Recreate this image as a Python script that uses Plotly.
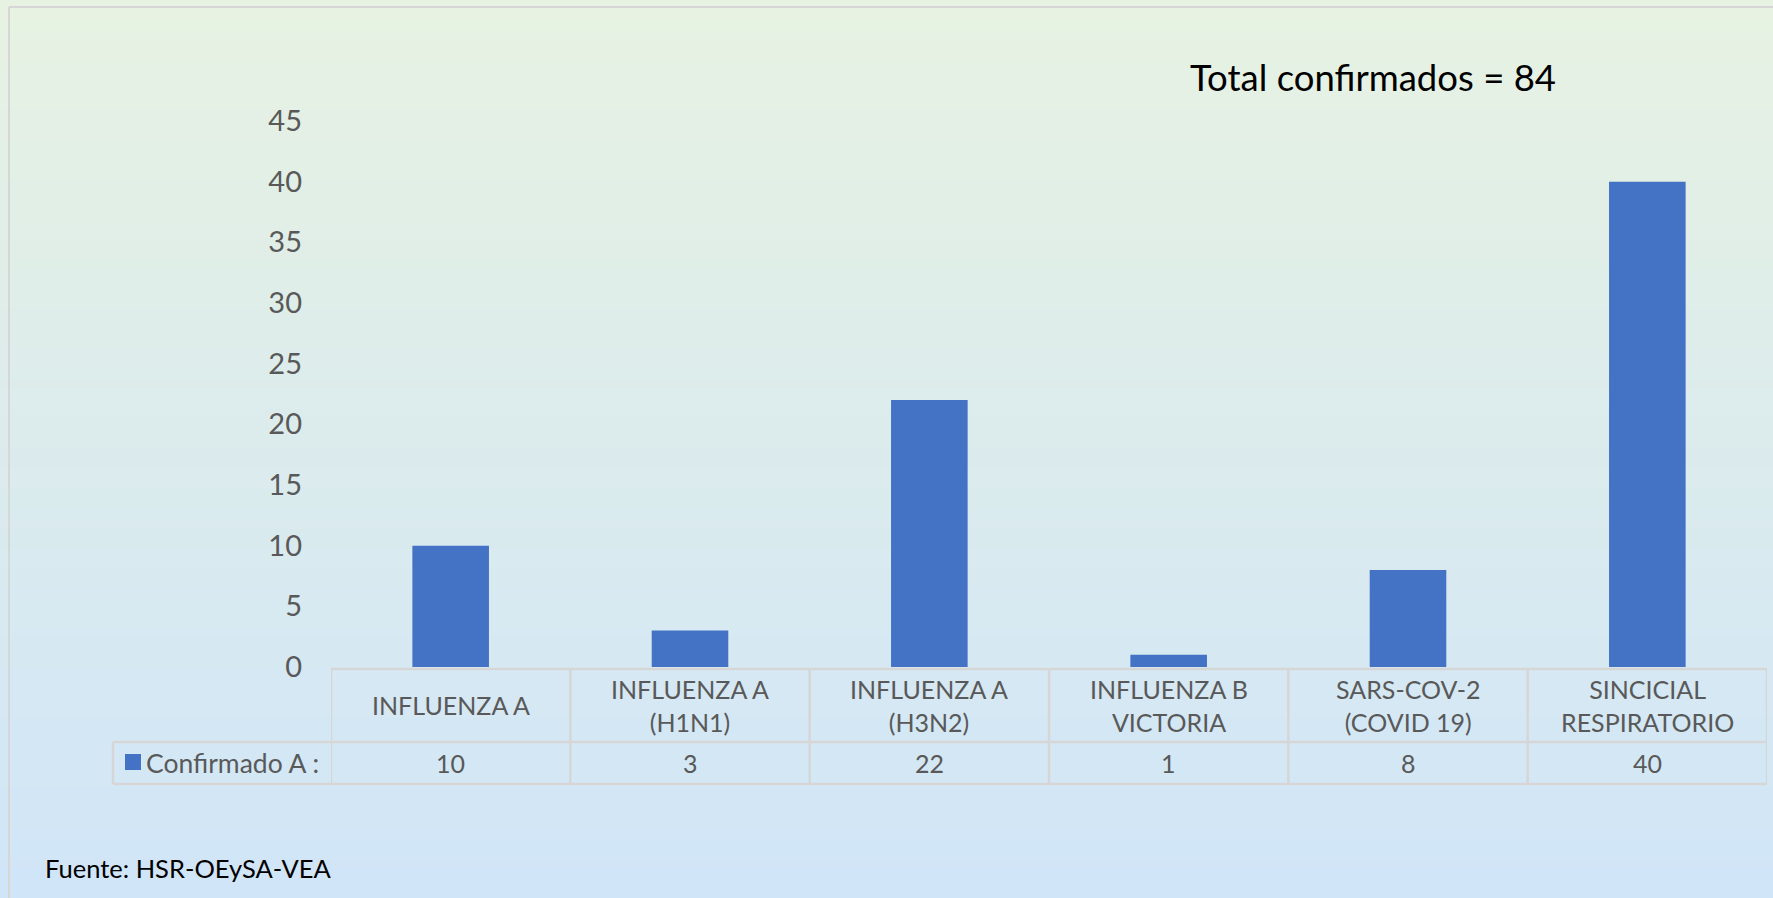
import plotly.graph_objects as go

categories = ["INFLUENZA A", "INFLUENZA A (H1N1)", "INFLUENZA A (H3N2)",
              "INFLUENZA B VICTORIA", "SARS-COV-2 (COVID 19)", "SINCICIAL RESPIRATORIO"]
category_labels = ["INFLUENZA A", "INFLUENZA A<br>(H1N1)", "INFLUENZA A<br>(H3N2)",
                   "INFLUENZA B<br>VICTORIA", "SARS-COV-2<br>(COVID 19)", "SINCICIAL<br>RESPIRATORIO"]
values = [10, 3, 22, 1, 8, 40]
series_name = "Confirmado A :"
y_ticks = [0, 5, 10, 15, 20, 25, 30, 35, 40, 45]
title_text = "Total confirmados = 84"
source_text = "Fuente: HSR-OEySA-VEA"

W, H = 1773, 898
L, R, T, B = 331, 6, 121, 231
PW, PH = W - L - R, H - T - B
FONT = "Lato"
GRAY = "#595959"
LINE = "#d6d6d6"
BAR = "#4472c4"


def px(xp):
    return (xp - L) / PW


def py(yp):
    return (H - B - yp) / PH


fig = go.Figure()
fig.add_trace(go.Bar(x=categories, y=values, marker=dict(color=BAR, line=dict(width=0)),
                     name=series_name, showlegend=False, hoverinfo="x+y"))

shapes = []
# background gradient (top light green -> bottom light blue)
top_c = (231, 242, 226)
bot_c = (208, 229, 248)
nb = 90
for i in range(nb):
    t = i / (nb - 1)
    c = tuple(round(top_c[k] + (bot_c[k] - top_c[k]) * t) for k in range(3))
    y0 = i * H / nb
    y1 = (i + 1) * H / nb + 1
    shapes.append(dict(type="rect", xref="paper", yref="paper", layer="below",
                       x0=px(-5), x1=px(W + 5), y0=py(y1), y1=py(y0),
                       fillcolor="rgb(%d,%d,%d)" % c, line=dict(width=0)))

# outer chart border
shapes.append(dict(type="line", xref="paper", yref="paper", x0=px(9), x1=px(W + 5),
                   y0=py(7), y1=py(7), line=dict(color=LINE, width=2)))
shapes.append(dict(type="line", xref="paper", yref="paper", x0=px(9), x1=px(9),
                   y0=py(7), y1=py(H + 5), line=dict(color=LINE, width=2)))

# data table lines
row_top, row_mid, row_bot = 669, 742, 784
shapes.append(dict(type="line", xref="paper", yref="paper", x0=0, x1=1,
                   y0=py(row_top), y1=py(row_top), line=dict(color=LINE, width=2.5)))
for yy in (row_mid, row_bot):
    shapes.append(dict(type="line", xref="paper", yref="paper", x0=px(113), x1=1,
                       y0=py(yy), y1=py(yy), line=dict(color=LINE, width=2.5)))
for i in range(len(categories) + 1):
    shapes.append(dict(type="line", xref="x", yref="paper", x0=i - 0.5, x1=i - 0.5,
                       y0=py(row_top), y1=py(row_bot), line=dict(color=LINE, width=2.5)))
shapes.append(dict(type="line", xref="paper", yref="paper", x0=px(113), x1=px(113),
                   y0=py(row_mid), y1=py(row_bot), line=dict(color=LINE, width=2.5)))
# legend key square
shapes.append(dict(type="rect", xref="paper", yref="paper", x0=px(125), x1=px(141),
                   y0=py(770), y1=py(754), fillcolor=BAR, line=dict(width=0)))

annotations = []
for cat, lab, v in zip(categories, category_labels, values):
    annotations.append(dict(x=cat, xref="x", y=py(705), yref="paper", text=lab,
                            showarrow=False, xanchor="center", yanchor="middle",
                            font=dict(family=FONT, size=25, color=GRAY)))
    annotations.append(dict(x=cat, xref="x", y=py(763), yref="paper", text=str(v),
                            showarrow=False, xanchor="center", yanchor="middle",
                            font=dict(family=FONT, size=25, color=GRAY)))
annotations.append(dict(x=px(144), xref="paper", y=py(763), yref="paper", text=series_name,
                        showarrow=False, xanchor="left", yanchor="middle",
                        font=dict(family=FONT, size=26.5, color=GRAY)))
annotations.append(dict(x=px(1188), xref="paper", y=py(77), yref="paper", text=title_text,
                        showarrow=False, xanchor="left", yanchor="middle",
                        font=dict(family=FONT, size=36.5, color="#000000")))
annotations.append(dict(x=px(43), xref="paper", y=py(868), yref="paper", text=source_text,
                        showarrow=False, xanchor="left", yanchor="middle",
                        font=dict(family=FONT, size=25.5, color="#000000")))

fig.update_layout(
    width=W, height=H,
    margin=dict(l=L, r=R, t=T, b=B, pad=0),
    paper_bgcolor="rgba(0,0,0,0)",
    plot_bgcolor="rgba(0,0,0,0)",
    bargap=0.68,
    showlegend=False,
    shapes=shapes,
    annotations=annotations,
    xaxis=dict(range=[-0.5, len(categories) - 0.5], showticklabels=False, showgrid=False,
               zeroline=False, showline=False, ticks="", fixedrange=True),
    yaxis=dict(range=[0, 45], tickvals=y_ticks, showgrid=False, zeroline=False,
               showline=False, ticks="", ticklabelstandoff=28,
               tickfont=dict(family=FONT, size=29, color=GRAY), fixedrange=True),
)

fig.write_html("out.html", config={"displayModeBar": False},
               post_script="document.body.style.margin='0';document.body.style.overflow='hidden';")
